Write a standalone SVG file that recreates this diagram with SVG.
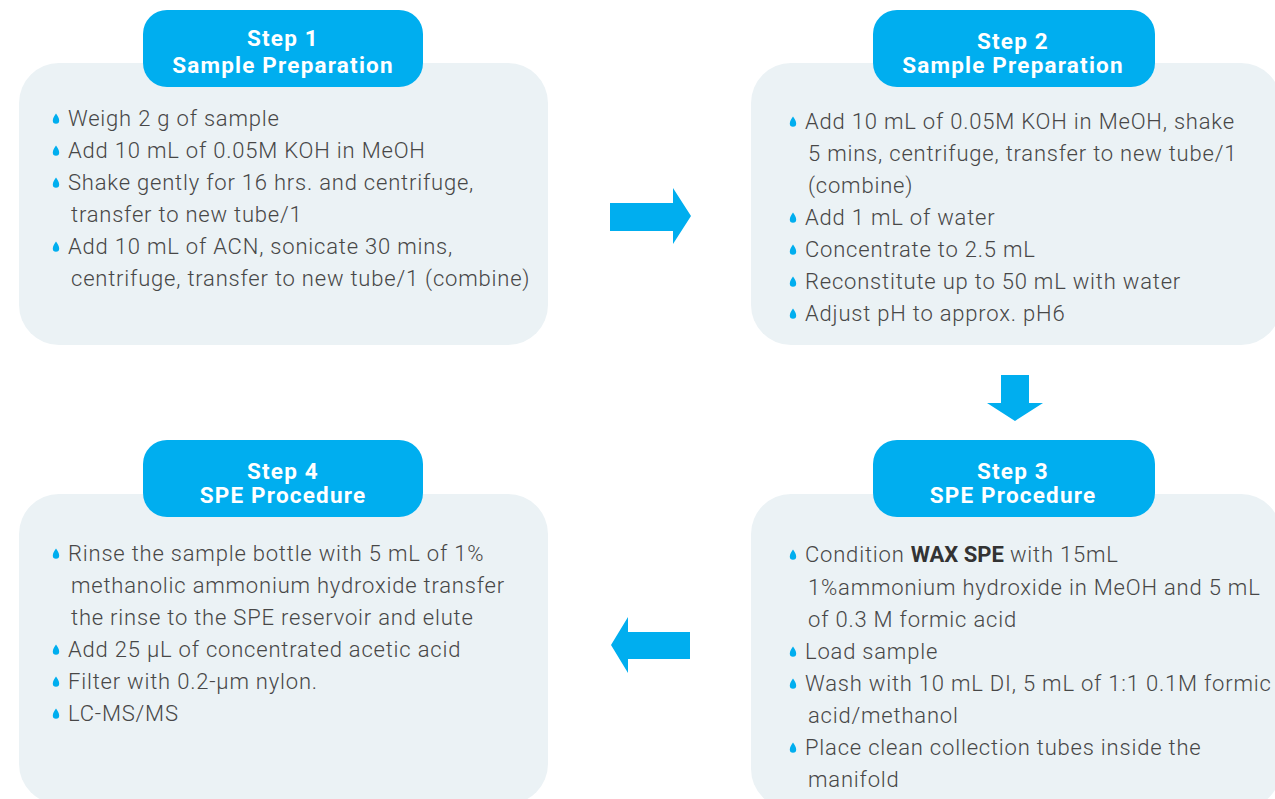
<svg xmlns="http://www.w3.org/2000/svg" width="1275" height="799" viewBox="0 0 1275 799">
<defs>
<style>
.card{fill:#ebf2f5}
.hdr{fill:#00aeef}
.ht{font-family:Roboto,"Liberation Sans",sans-serif;font-weight:bold;font-size:22.5px;letter-spacing:1.2px;fill:#fff;text-anchor:middle}
.bt{font-family:Roboto,"Liberation Sans",sans-serif;font-weight:300;font-size:22px;letter-spacing:0.8px;fill:#474747}
.b{font-weight:bold;fill:#333;letter-spacing:0}
.arrow{fill:#00aeef}
</style>
<path id="drop" d="M0,-5.5 C1.6,-3 3.2,-1 3.2,1.5 A3.2,3.2 0 0 1 -3.2,1.5 C-3.2,-1 -1.6,-3 0,-5.5 Z" fill="#00aeef"/>
</defs>
<rect width="1275" height="799" fill="#fff"/>

<g id="connectors">
<path class="arrow" d="M610,203 H673 V188 L691,216 L673,244 V231 H610 Z"/>
<path class="arrow" d="M1001,375 H1029 V403 H1043 L1015,421 L987,403 H1001 Z"/>
<path class="arrow" d="M690,632 H628 V617 L611,645 L628,673 V659 H690 Z"/>
</g>

<g id="step1">
<rect class="card" x="19" y="63" width="529" height="282" rx="40"/>
<rect class="hdr" x="143" y="10" width="280" height="77" rx="24"/>
<text class="ht" x="283" y="46">Step 1</text>
<text class="ht" x="283" y="73">Sample Preparation</text>
<use href="#drop" x="56" y="119"/>
<use href="#drop" x="56" y="151"/>
<use href="#drop" x="56" y="183"/>
<use href="#drop" x="56" y="247"/>
<text class="bt" x="68" y="126">Weigh 2 g of sample</text>
<text class="bt" x="68" y="158">Add 10 mL of 0.05M KOH in MeOH</text>
<text class="bt" x="68" y="190">Shake gently for 16 hrs. and centrifuge,</text>
<text class="bt" x="71" y="222">transfer to new tube/1</text>
<text class="bt" x="68" y="254">Add 10 mL of ACN, sonicate 30 mins,</text>
<text class="bt" x="71" y="286">centrifuge, transfer to new tube/1 (combine)</text>
</g>

<g id="step2">
<rect class="card" x="751" y="63" width="530" height="282" rx="40"/>
<rect class="hdr" x="873" y="10" width="282" height="77" rx="24"/>
<text class="ht" x="1013" y="49">Step 2</text>
<text class="ht" x="1013" y="73">Sample Preparation</text>
<use href="#drop" x="793" y="122"/>
<use href="#drop" x="793" y="218"/>
<use href="#drop" x="793" y="250"/>
<use href="#drop" x="793" y="282"/>
<use href="#drop" x="793" y="314"/>
<text class="bt" x="805" y="129">Add 10 mL of 0.05M KOH in MeOH, shake</text>
<text class="bt" x="808" y="161">5 mins, centrifuge, transfer to new tube/1</text>
<text class="bt" x="808" y="193">(combine)</text>
<text class="bt" x="805" y="225">Add 1 mL of water</text>
<text class="bt" x="805" y="257">Concentrate to 2.5 mL</text>
<text class="bt" x="805" y="289">Reconstitute up to 50 mL with water</text>
<text class="bt" x="805" y="321">Adjust pH to approx. pH6</text>
</g>

<g id="step3">
<rect class="card" x="751" y="494" width="530" height="315" rx="40"/>
<rect class="hdr" x="873" y="440" width="282" height="77" rx="24"/>
<text class="ht" x="1013" y="479">Step 3</text>
<text class="ht" x="1013" y="503">SPE Procedure</text>
<use href="#drop" x="793" y="555"/>
<use href="#drop" x="793" y="652"/>
<use href="#drop" x="793" y="684"/>
<use href="#drop" x="793" y="748"/>
<text class="bt" x="805" y="562">Condition <tspan class="b">WAX SPE</tspan> with 15mL</text>
<text class="bt" x="808" y="595">1%ammonium hydroxide in MeOH and 5 mL</text>
<text class="bt" x="808" y="627">of 0.3 M formic acid</text>
<text class="bt" x="805" y="659">Load sample</text>
<text class="bt" x="805" y="691">Wash with 10 mL DI, 5 mL of 1:1 0.1M formic</text>
<text class="bt" x="808" y="723">acid/methanol</text>
<text class="bt" x="805" y="755">Place clean collection tubes inside the</text>
<text class="bt" x="808" y="787">manifold</text>
</g>

<g id="step4">
<rect class="card" x="19" y="494" width="529" height="310" rx="40"/>
<rect class="hdr" x="143" y="440" width="280" height="77" rx="24"/>
<text class="ht" x="283" y="479">Step 4</text>
<text class="ht" x="283" y="503">SPE Procedure</text>
<use href="#drop" x="56" y="554"/>
<use href="#drop" x="56" y="650"/>
<use href="#drop" x="56" y="682"/>
<use href="#drop" x="56" y="714"/>
<text class="bt" x="68" y="561">Rinse the sample bottle with 5 mL of 1%</text>
<text class="bt" x="71" y="593">methanolic ammonium hydroxide transfer</text>
<text class="bt" x="71" y="625">the rinse to the SPE reservoir and elute</text>
<text class="bt" x="68" y="657">Add 25 µL of concentrated acetic acid</text>
<text class="bt" x="68" y="689">Filter with 0.2-µm nylon.</text>
<text class="bt" x="68" y="721">LC-MS/MS</text>
</g>
</svg>
